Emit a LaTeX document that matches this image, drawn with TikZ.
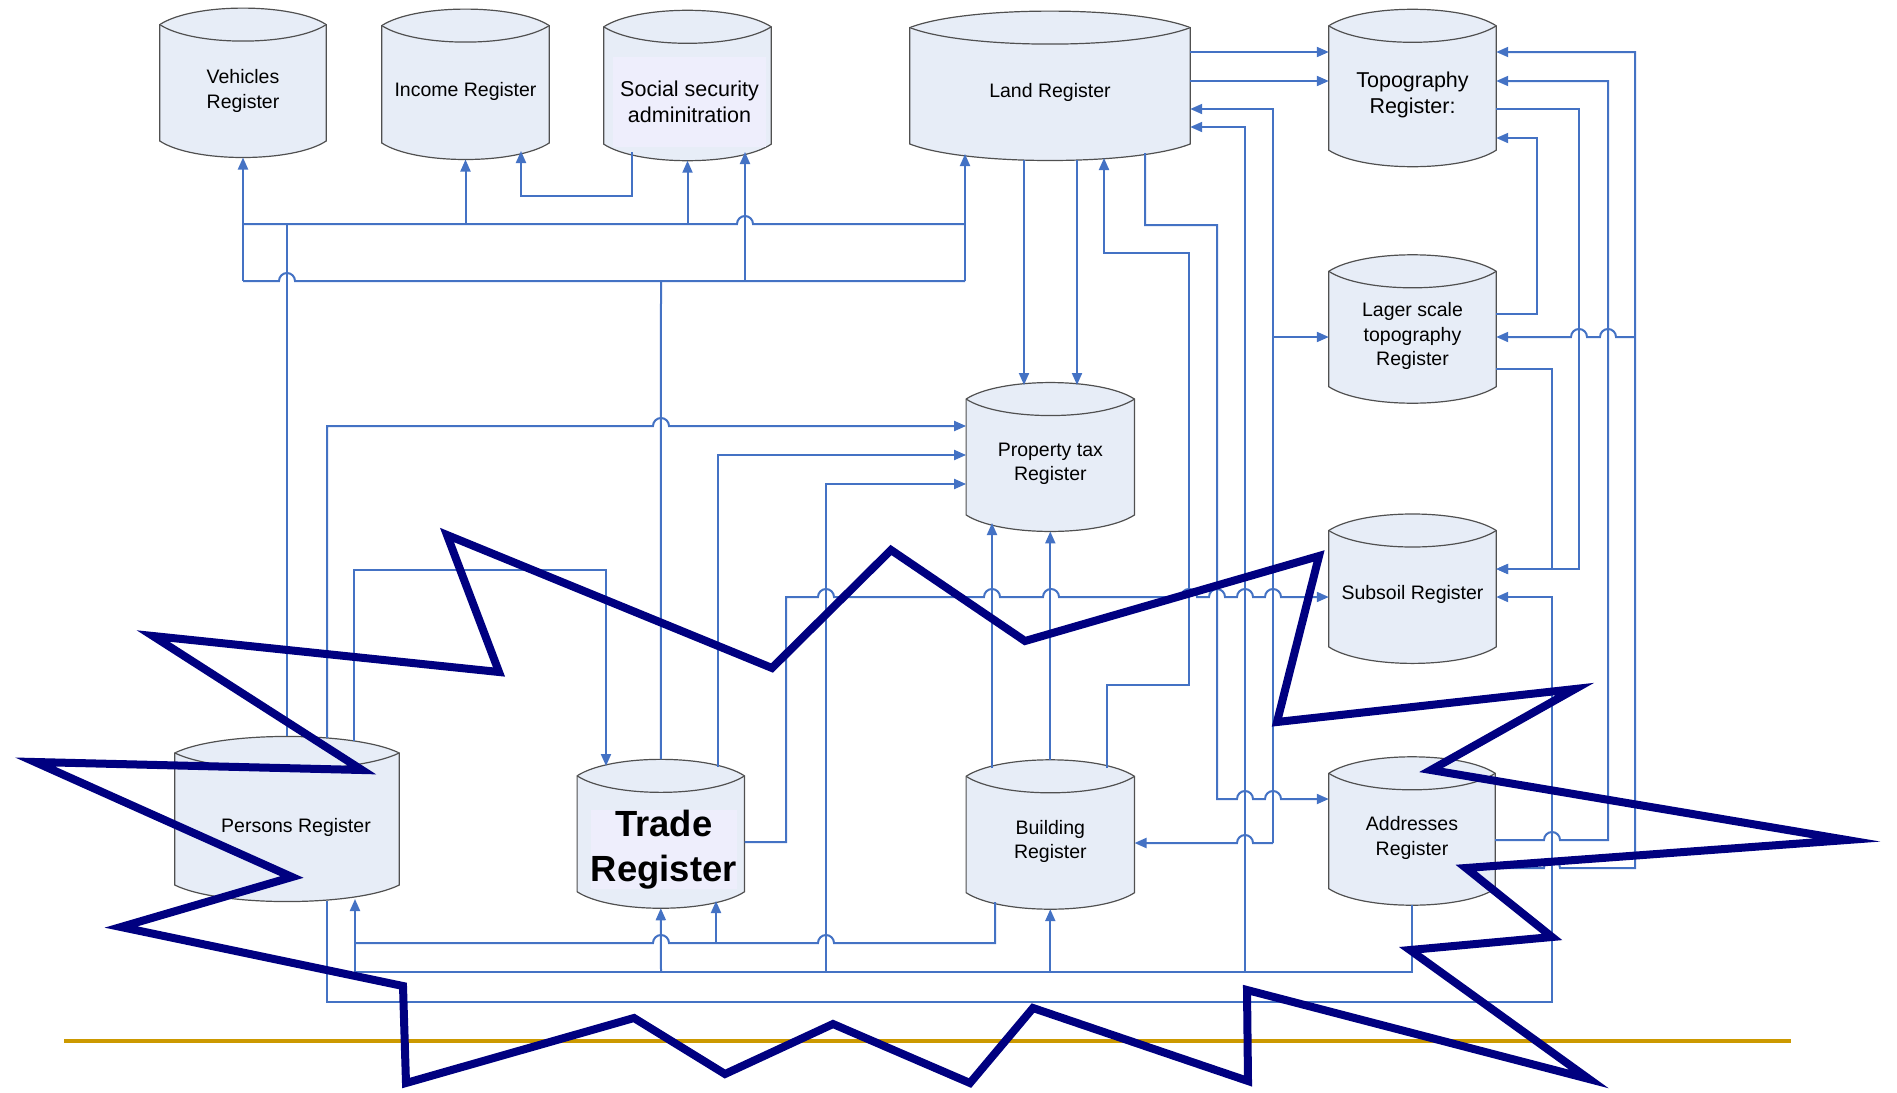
\documentclass[tikz,border=0pt]{standalone}
\usepackage{fontspec}
\setmainfont{Liberation Sans}
\usetikzlibrary{arrows.meta,calc,backgrounds}

\definecolor{linkblue}{RGB}{68,114,196}
\definecolor{diskfill}{RGB}{231,237,247}
\definecolor{diskedge}{RGB}{80,80,80}
\definecolor{textbox}{RGB}{238,238,252}
\definecolor{burstnavy}{RGB}{0,0,128}
\definecolor{rulegold}{RGB}{204,153,0}

\begin{document}
\begin{tikzpicture}[
      x=1pt,
      y=-1pt,
      register/.style={
        rectangle,
        inner sep=0pt,
        minimum width=167pt,
        minimum height=149pt
      },
      regtext/.style={
        align=center,
        inner sep=0pt,
        font=\fontsize{19.5}{24.5}\selectfont
      },
      disk/.style={
        fill=diskfill,
        draw=diskedge,
        line width=1.2pt
      },
      link/.style={
        linkblue,
        line width=2pt
      },
      feed/.style={
        link,
        -{Triangle[length=12pt,width=10pt]}
      },
      hop/.style={insert path={arc[start angle=180,end angle=0,radius=8pt]}},
      hopl/.style={insert path={arc[start angle=0,end angle=180,radius=8pt]}},
      burst/.style={
        burstnavy,
        line width=8pt,
        line join=miter,
        miter limit=20
      }
    ]
      \useasboundingbox (0,0) rectangle (1897,1092);

      \node (veh) at (243,82.8) [register,minimum width=166pt,label={[regtext,yshift=-8pt]center:Vehicles\\Register}]{};
      \node (inc) at (465.5,84.3) [register,minimum height=150pt,label={[regtext,yshift=-7pt]center:Income Register}]{};
      \node (soc) at (687.5,85.5) [register,minimum height=150pt,label={[regtext,fill=textbox,minimum width=153pt,minimum height=90pt,xshift=2pt,yshift=-16.5pt,font=\fontsize{21.5}{26.3}\selectfont]center:Social security\\adminitration}]{};
      \node (land) at (1050,85.8) [register,minimum width=280pt,label={[regtext,yshift=-7pt]center:Land Register}]{};
      \node (topo) at (1412.5,88) [register,minimum height=157pt,label={[regtext,yshift=-7pt,font=\fontsize{21.5}{26}\selectfont]center:Topography\\Register:}]{};
      \node (lager) at (1412.5,329) [register,minimum height=148pt,label={[regtext,yshift=-7pt]center:Lager scale\\topography\\Register}]{};
      \node (subs) at (1412.5,588.7) [register,label={[regtext,yshift=-6pt]center:Subsoil Register}]{};
      \node (prop) at (1050.3,457) [register,minimum width=168pt,minimum height=148.5pt,label={[regtext,yshift=-7pt]center:Property tax\\Register}]{};
      \node (pers) at (287,819) [register,minimum width=224pt,minimum height=164.7pt,label={[regtext,xshift=9pt,yshift=-8pt]center:Persons Register}]{};
      \node (trade) at (660.8,833.8) [register,minimum height=148.5pt,label={[regtext,fill=textbox,minimum width=135pt,minimum height=74pt,xshift=3pt,yshift=-16pt,font=\bfseries\fontsize{36.4}{45}\selectfont]center:Trade\\Register}]{};
      \node (bld) at (1050.3,834.5) [register,minimum width=168pt,label={[regtext,yshift=-7pt]center:Building\\Register}]{};
      \node (addr) at (1412,831) [register,minimum width=166pt,minimum height=148pt,label={[regtext,yshift=-7pt]center:Addresses\\Register}]{};

      \begin{scope}[on background layer]
        \foreach \r in {veh,inc,soc,land,topo,lager,subs,prop,pers,trade,bld,addr}{
          \filldraw[disk] ($(\r.north west)+(0,16.5)$)
            .. controls ($(\r.north west)!0.2!(\r.north east)+(0,-5.5)$) and ($(\r.north west)!0.8!(\r.north east)+(0,-5.5)$) .. ($(\r.north east)+(0,16.5)$)
            -- ($(\r.south east)+(0,-16.5)$)
            .. controls ($(\r.south west)!0.8!(\r.south east)+(0,5.5)$) and ($(\r.south west)!0.2!(\r.south east)+(0,5.5)$) .. ($(\r.south west)+(0,-16.5)$)
            -- cycle;
          \draw[disk] ($(\r.north west)+(0,16.5)$)
            .. controls ($(\r.north west)!0.2!(\r.north east)+(0,38.5)$) and ($(\r.north west)!0.8!(\r.north east)+(0,38.5)$) .. ($(\r.north east)+(0,16.5)$);
        }
      \end{scope}

      % top row
      \draw[feed] (243,281) -- (veh.south);
      \draw[link] (243,224) -- (737,224) [hop] -- (965,224);
      \draw[link] (243,281) -- (279,281) [hop] -- (965,281);
      \draw[link] (pers.north) -- (287,224);
      \draw[feed] (465.5,224) -- (inc.south);
      \draw[feed] (632,152) |- (521,196) -- (521,151);
      \draw[feed] (687.5,224) -- (soc.south);
      \draw[feed] (745,281) -- (745,152);
      \draw[link] (trade.north) -- (661,281);
      \draw[feed] (965,281) -- (965,154);

      % land register
      \draw[feed] (1024,160) -- (1024,385);
      \draw[feed] (1077,160) -- (1077,385);
      \draw[feed] (1107,768) |- (1189,685) -- (1189,253) -| (1104,158);
      \draw[feed] (1145,153) |- (1217,225) -- (1217,799) -- (1237,799) [hop] -- (1265,799) [hop] -- (addr.west |- 0,799);
      \draw[feed] (land.east |- 0,52) -- (topo.west |- 0,52);
      \draw[feed] (land.east |- 0,81) -- (topo.west |- 0,81);
      \draw[feed] (1273,843) -- (1273,109) -- (land.east |- 0,109);
      \draw[feed] (1273,843) -- (1253,843) [hopl] -- (bld.east |- 0,843);
      \draw[feed] (1273,337) -- (lager.west |- 0,337);
      \draw[feed] (1245,972) -- (1245,127) -- (land.east |- 0,127);

      % property tax register
      \draw[feed] (trade.east |- 0,842) -| (786,597) -- (818,597) [hop] -- (984,597) [hop] -- (1043,597) [hop] -- (1181,597) [hop] -- (1209,597) [hop] -- (1237,597) [hop] -- (1265,597) [hop] -- (subs.west |- 0,597);
      \draw[feed] (718,767) |- (prop.west |- 0,455);
      \draw[feed] (327,738) -- (327,426) -- (653,426) [hop] -- (prop.west |- 0,426);
      \draw[feed] (354,741) |- (606,570) -- (606,766);
      \draw[feed] (826,972) |- (prop.west |- 0,484);
      \draw[feed] (992,768) -- (992,523);
      \draw[feed] (bld.north) -- (prop.south);

      % right column
      \draw[feed] (lager.east |- 0,369) -| (1552,569) -- (subs.east |- 0,569);
      \draw[feed] (topo.east |- 0,109) -| (1579,569) -- (subs.east |- 0,569);
      \draw[feed] (lager.east |- 0,314) -| (1537,138) -- (topo.east |- 0,138);
      \draw[feed] (addr.east |- 0,868) -- (1544,868) [hop] -- (1635,868) -- (1635,52) -- (topo.east |- 0,52);
      \draw[feed] (1635,337) -- (1616,337) [hopl] -- (1587,337) [hopl] -- (lager.east |- 0,337);
      \draw[feed] (addr.east |- 0,840) -- (1544,840) [hop] -- (1608,840) -- (1608,81) -- (topo.east |- 0,81);

      % bottom buses
      \draw[feed] (327,901) |- (1552,1002) -- (1552,597) -- (subs.east |- 0,597);
      \draw[link] (995,902) |- (834,943) [hopl] -- (669,943) [hopl] -- (355,943);
      \draw[feed] (716,943) -- (716,901);
      \draw[link] (addr.south) |- (355,972);
      \draw[feed] (355,972) -- (355,899);
      \draw[feed] (661,972) -- (trade.south);
      \draw[feed] (1050.3,972) -- (bld.south);

      \draw[rulegold,line width=4.5pt] (64,1041) -- (1791,1041);

      \draw[burst] (447,535) -- (499,672) -- (153,636) -- (362,770) -- (35,762)
        -- (292,877) -- (121,927) -- (403,986) -- (406,1083) -- (634,1018)
        -- (725,1074) -- (833,1024) -- (970,1083) -- (1033,1008) -- (1248,1081)
        -- (1247,990) -- (1589,1079) -- (1410,950) -- (1552,937) -- (1466,868)
        -- (1847,840) -- (1431,770) -- (1575,689) -- (1277,722) -- (1319,556)
        -- (1025,641) -- (891,550) -- (772,668) -- cycle;

    \end{tikzpicture}
\end{document}
